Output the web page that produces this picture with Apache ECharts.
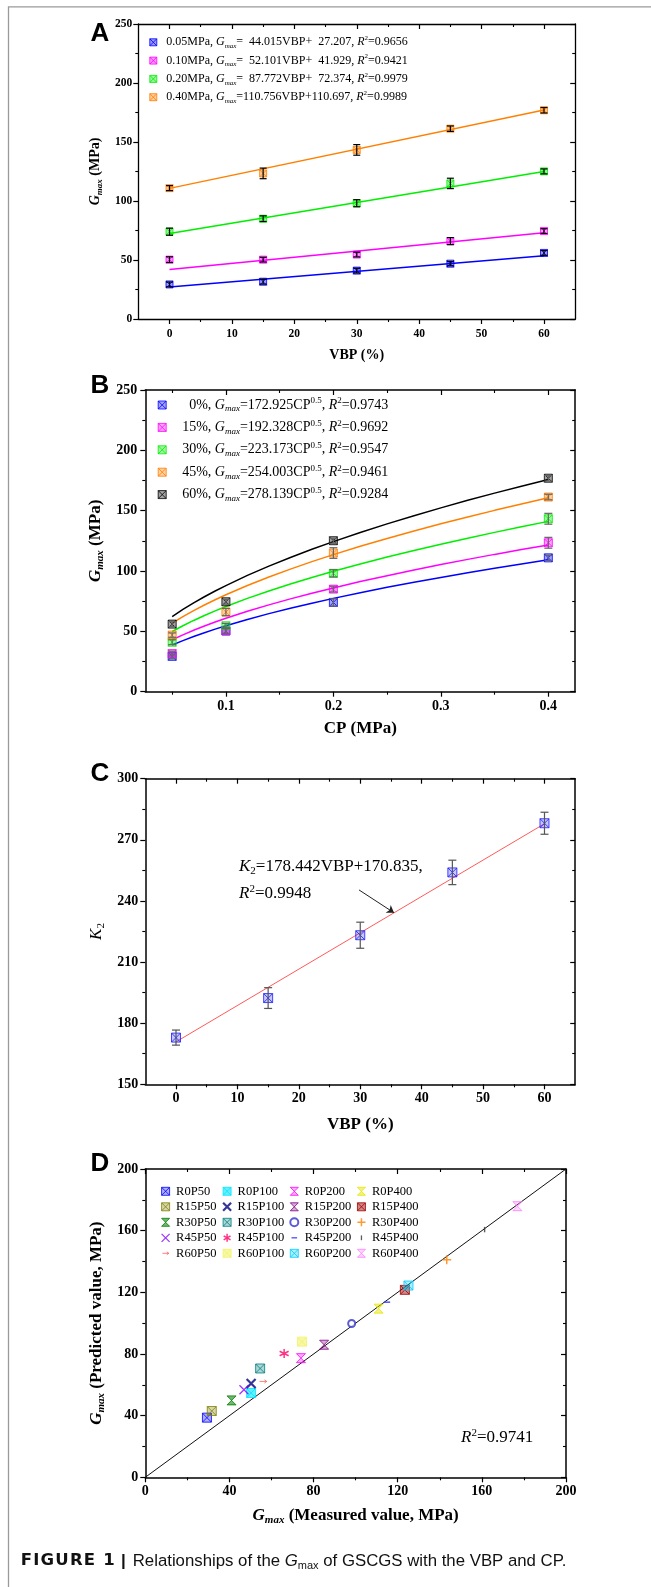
<!DOCTYPE html>
<html>
<head>
<meta charset="utf-8">
<script src="https://cdn.jsdelivr.net/npm/echarts@6/dist/echarts.min.js"></script>
<style>
  html, body { margin: 0; padding: 0; background: #fff; }
  #chart { width: 651px; height: 1587px; }
</style>
</head>
<body>
<div id="chart"></div>
<script>
const SERIF = '"Liberation Serif","Times New Roman",serif';
const SANS = '"Liberation Sans",Arial,sans-serif';
const FIG = '\u2007'; // figure space, one digit wide

// ---- Panel A: Gmax against VBP at four confining pressures ----
const vbpLevels = [0, 15, 30, 45, 60];
const cpNames = ['0.05MPa', '0.10MPa', '0.20MPa', '0.40MPa'];
const gmaxCp005 = [29.3, 31.6, 41.0, 46.9, 56.0];
const gmaxCp010 = [50.3, 50.3, 54.6, 66.0, 74.5];
const gmaxCp020 = [74.0, 85.0, 98.1, 114.9, 125.1];
const gmaxCp040 = [110.9, 123.4, 143.3, 161.3, 176.9];
const errCp005 = [2.0, 2.0, 2.0, 1.8, 2.0];
const errCp010 = [2.4, 2.0, 2.0, 3.0, 2.0];
const errCp020 = [3.0, 2.4, 3.0, 4.4, 2.1];
const errCp040 = [2.1, 4.5, 4.5, 2.3, 2.3];
const linSlope = [44.015, 52.101, 87.772, 110.756];
const linIntercept = [27.207, 41.929, 72.374, 110.697];
const linR2 = ['0.9656', '0.9421', '0.9979', '0.9989'];

// ---- Panel B: Gmax against CP at five VBP levels (same tests, regrouped) ----
const cpLevels = [0.05, 0.1, 0.2, 0.4];
const vbpNames = ['0%', '15%', '30%', '45%', '60%'];
const powK = [172.925, 192.328, 223.173, 254.003, 278.139];
const powR2 = ['0.9743', '0.9692', '0.9547', '0.9461', '0.9284'];
const curveCp = [0.05, 0.06, 0.07, 0.08, 0.09, 0.1, 0.12, 0.14, 0.16, 0.18, 0.2,
                 0.225, 0.25, 0.275, 0.3, 0.325, 0.35, 0.375, 0.4];

// ---- Panel C: K2 against VBP ----
const k2Values = [172.925, 192.328, 223.173, 254.003, 278.139];
const k2Err = [3.7, 5.1, 6.4, 6.0, 5.4];
const k2Slope = 178.442;
const k2Intercept = 170.835;
const k2R2 = '0.9948';
const k2Arrow = [[29.8, 245.4], [35.5, 234.2]];

// ---- Panel D: predicted against measured Gmax ----
const sampleNames = ['R0P50', 'R0P100', 'R0P200', 'R0P400',
                     'R15P50', 'R15P100', 'R15P200', 'R15P400',
                     'R30P50', 'R30P100', 'R30P200', 'R30P400',
                     'R45P50', 'R45P100', 'R45P200', 'R45P400',
                     'R60P50', 'R60P100', 'R60P200', 'R60P400'];
const measured = [29.3, 50.3, 74.0, 110.9, 31.6, 50.3, 85.0, 123.4,
                  41.0, 54.6, 98.1, 143.3, 46.9, 66.0, 114.9, 161.3,
                  56.0, 74.5, 125.1, 176.9];
const predicted = [38.7, 54.7, 77.3, 109.4, 43.0, 60.8, 86.0, 121.6,
                   49.9, 70.6, 99.8, 141.2, 56.8, 80.3, 113.6, 160.7,
                   62.2, 88.0, 124.4, 175.9];
const dR2 = '0.9741';

const gmaxByCp = [gmaxCp005, gmaxCp010, gmaxCp020, gmaxCp040];
const errByCp = [errCp005, errCp010, errCp020, errCp040];

// ---------- styling helpers ----------
const black = '#000';
const BOXX = 'path://M0,0H10V10H0ZM0,0L10,10M10,0L0,10';
const HOURGLASS = 'path://M0,0H10L0,10H10Z';
const XMARK = 'path://M0,0L10,10M10,0L0,10';
const PLUS = 'path://M5,0V10M0,5H10';
const ASTER = 'path://M5,0V10M0.7,2.5L9.3,7.5M9.3,2.5L0.7,7.5';
const DASH = 'path://M0,0M1.5,4.1H8.5V5.9H1.5ZM10,10';
const VBAR = 'path://M0,0M4.2,2H5.8V8H4.2ZM10,10';
const ARROW = 'path://M0,0M1,5H9M6.5,3.2L9,5L6.5,6.8M10,10';

function rgba(hex, a) {
  const n = parseInt(hex.slice(1), 16);
  return 'rgba(' + (n >> 16 & 255) + ',' + (n >> 8 & 255) + ',' + (n & 255) + ',' + a + ')';
}
function boxStyle(c, a) {
  return { color: rgba(c, a == null ? 0.4 : a), borderColor: c, borderWidth: 1 };
}

function richText(size, weight) {
  const sub = Math.round(size * 0.62);
  const w = weight || 'normal';
  return {
    i: { fontFamily: SERIF, fontStyle: 'italic', fontWeight: w, fontSize: size, lineHeight: size + 3 },
    sub: { fontFamily: SERIF, fontStyle: 'italic', fontWeight: w, fontSize: sub, lineHeight: sub - 2, verticalAlign: 'bottom' },
    subn: { fontFamily: SERIF, fontWeight: w, fontSize: sub, lineHeight: sub - 2, verticalAlign: 'bottom' },
    sup: { fontFamily: SERIF, fontWeight: w, fontSize: sub, lineHeight: sub - 2, verticalAlign: 'top' }
  };
}
function nameStyle(size, weight) {
  return { color: black, fontFamily: SERIF, fontWeight: weight || 'bold', fontSize: size,
           lineHeight: size + 3, rich: richText(size, weight || 'bold') };
}

// ---------- axes: labelled bottom/left, mirrored top/right ----------
const xAxis = [], yAxis = [];
function frameAxes(g, dim, s) {
  const list = dim === 'x' ? xAxis : yAxis;
  const sides = dim === 'x' ? ['bottom', 'top'] : ['left', 'right'];
  const mainIndex = list.length;
  sides.forEach((pos, k) => {
    const inside = k === 1;
    const ax = {
      type: 'value', gridIndex: g, min: s.min, max: s.max, position: pos,
      splitLine: { show: false },
      axisPointer: { show: false },
      axisLine: { show: true, onZero: false, lineStyle: { color: black, width: s.lw } },
      axisTick: { show: true, inside: inside, length: 5, lineStyle: { color: black, width: 1.2 } },
      axisLabel: { show: k === 0, color: black, fontFamily: SERIF, fontWeight: 'bold',
                   fontSize: s.fs, margin: s.margin }
    };
    if (s.majors) {
      ax.axisTick.customValues = s.majors;
      ax.axisLabel.customValues = s.majors;
    } else {
      ax.interval = s.interval;
      ax.minorTick = { show: true, splitNumber: 2, length: 3, lineStyle: { color: black, width: 1.1 } };
    }
    if (k === 0 && s.name) {
      Object.assign(ax, { name: s.name, nameLocation: 'middle', nameGap: s.nameGap, nameTextStyle: s.nameStyle });
    }
    list.push(ax);
    if (s.minors) {
      list.push({
        type: 'value', gridIndex: g, min: s.min, max: s.max, position: pos,
        splitLine: { show: false },
        axisPointer: { show: false },
        axisLine: { show: false, onZero: false },
        axisTick: { show: true, inside: inside, length: 3, customValues: s.minors,
                    lineStyle: { color: black, width: 1.1 } },
        axisLabel: { show: false, customValues: s.minors }
      });
    }
  });
  return mainIndex;
}

const grids = [
  { left: 138.3, top: 24, width: 436.9, height: 295 },
  { left: 145.3, top: 390, width: 429.9, height: 301.7 },
  { left: 145.3, top: 778.7, width: 429.9, height: 305.6 },
  { left: 145.3, top: 1169, width: 420.7, height: 308.3 }
];

const vbpMajors = [0, 10, 20, 30, 40, 50, 60];
const vbpMinors = [5, 15, 25, 35, 45, 55];

const axA = frameAxes(0, 'x', { min: -5, max: 65, majors: vbpMajors, minors: vbpMinors, lw: 1.3, fs: 11.5, margin: 9,
  name: 'VBP (%)', nameGap: 28, nameStyle: nameStyle(14) });
const ayA = frameAxes(0, 'y', { min: 0, max: 250, interval: 50, lw: 1.3, fs: 11.5, margin: 6,
  name: '{i|G}{sub|max} (MPa)', nameGap: 28, nameStyle: nameStyle(14) });

const axB = frameAxes(1, 'x', { min: 0.025, max: 0.425, majors: [0.1, 0.2, 0.3, 0.4],
  minors: [0.05, 0.15, 0.25, 0.35], lw: 1.5, fs: 14, margin: 8,
  name: 'CP (MPa)', nameGap: 27, nameStyle: nameStyle(17) });
const ayB = frameAxes(1, 'y', { min: 0, max: 250, interval: 50, lw: 1.5, fs: 14, margin: 8,
  name: '{i|G}{sub|max} (MPa)', nameGap: 34, nameStyle: nameStyle(17) });

const axC = frameAxes(2, 'x', { min: -5, max: 65, majors: vbpMajors, minors: vbpMinors, lw: 1.5, fs: 14, margin: 7,
  name: 'VBP (%)', nameGap: 30, nameStyle: nameStyle(17) });
const ayC = frameAxes(2, 'y', { min: 150, max: 300, interval: 30, lw: 1.5, fs: 14, margin: 7,
  name: '{i|K}{subn|2}', nameGap: 35, nameStyle: nameStyle(17, 'normal') });

const axD = frameAxes(3, 'x', { min: 0, max: 200, interval: 40, lw: 1.5, fs: 14, margin: 7,
  name: '{i|G}{sub|max} (Measured value, MPa)', nameGap: 28, nameStyle: nameStyle(17) });
const ayD = frameAxes(3, 'y', { min: 0, max: 200, interval: 40, lw: 1.5, fs: 14, margin: 7,
  name: '{i|G}{sub|max} (Predicted value, MPa)', nameGap: 34, nameStyle: nameStyle(17) });

// ---------- error bars ----------
function errorBars(xi, yi, pts, color, capHalf) {
  return {
    type: 'custom', xAxisIndex: xi, yAxisIndex: yi, z: 5, silent: true,
    data: pts,
    encode: { x: 0, y: 1 },
    renderItem(params, api) {
      const x = api.value(0), y = api.value(1), e = api.value(2);
      const top = api.coord([x, y + e]);
      const bot = api.coord([x, y - e]);
      const style = { stroke: color, lineWidth: 1.2, fill: null };
      return {
        type: 'group',
        children: [
          { type: 'line', shape: { x1: top[0], y1: top[1], x2: bot[0], y2: bot[1] }, style },
          { type: 'line', shape: { x1: top[0] - capHalf, y1: top[1], x2: top[0] + capHalf, y2: top[1] }, style },
          { type: 'line', shape: { x1: bot[0] - capHalf, y1: bot[1], x2: bot[0] + capHalf, y2: bot[1] }, style }
        ]
      };
    }
  };
}

const series = [];

// Panel A
const colorsA = ['#0000ff', '#ff00ff', '#00ee00', '#ff8000'];
cpNames.forEach((nm, i) => {
  series.push({
    type: 'line', xAxisIndex: axA, yAxisIndex: ayA, z: 2, silent: true,
    showSymbol: false, symbol: 'none',
    lineStyle: { color: colorsA[i], width: 1.5 },
    data: [[0, linIntercept[i]], [60, linIntercept[i] + linSlope[i] * 0.6]]
  });
  series.push({
    type: 'scatter', name: nm, xAxisIndex: axA, yAxisIndex: ayA, z: 3,
    symbol: BOXX, symbolSize: 7, itemStyle: boxStyle(colorsA[i], 0.5),
    data: vbpLevels.map((v, j) => [v, gmaxByCp[i][j]])
  });
  series.push(errorBars(axA, ayA, vbpLevels.map((v, j) => [v, gmaxByCp[i][j], errByCp[i][j]]), '#000', 3.5));
});

// Panel B
const colorsB = ['#0000ff', '#ff00ff', '#00ee00', '#ff8000', '#000000'];
vbpNames.forEach((nm, i) => {
  // fitted power-law curve Gmax = K * CP^0.5 with the coefficient listed in the legend
  series.push({
    type: 'line', xAxisIndex: axB, yAxisIndex: ayB, z: 2, silent: true,
    showSymbol: false, symbol: 'none', smooth: false,
    lineStyle: { color: colorsB[i], width: 1.5 },
    data: curveCp.map(cp => [cp, powK[i] * Math.sqrt(cp)])
  });
  series.push({
    type: 'scatter', name: nm, xAxisIndex: axB, yAxisIndex: ayB, z: 3,
    symbol: BOXX, symbolSize: 8, itemStyle: boxStyle(colorsB[i], 0.45),
    data: cpLevels.map((cp, j) => [cp, gmaxByCp[j][i]])
  });
  series.push(errorBars(axB, ayB, cpLevels.map((cp, j) => [cp, gmaxByCp[j][i], errByCp[j][i]]), '#666', 4));
});

// Panel C
series.push({
  type: 'line', xAxisIndex: axC, yAxisIndex: ayC, z: 2, silent: true,
  showSymbol: false, symbol: 'none',
  lineStyle: { color: '#ff5a5a', width: 1 },
  data: [[0, k2Intercept], [60, k2Intercept + k2Slope * 0.6]],
  markLine: {
    silent: true, symbol: ['none', 'arrow'], symbolSize: 7,
    lineStyle: { color: '#222', width: 1, type: 'solid' },
    label: { show: false },
    data: [[{ coord: k2Arrow[0] }, { coord: k2Arrow[1] }]]
  }
});
series.push({
  type: 'scatter', xAxisIndex: axC, yAxisIndex: ayC, z: 3,
  symbol: BOXX, symbolSize: 9, itemStyle: boxStyle('#1a1aff', 0.3),
  data: vbpLevels.map((v, j) => [v, k2Values[j]])
});
series.push(errorBars(axC, ayC, vbpLevels.map((v, j) => [v, k2Values[j], k2Err[j]]), '#555', 4));

// Panel D
const dMarks = [
  { s: BOXX, c: '#0000ff' }, { s: BOXX, c: '#00e5ff', a: 0.75 }, { s: HOURGLASS, c: '#ff00ff' }, { s: HOURGLASS, c: '#e6e600', a: 0.6 },
  { s: BOXX, c: '#808000' }, { s: XMARK, c: '#000080', w: 2.2 }, { s: HOURGLASS, c: '#800080' }, { s: BOXX, c: '#a00000', a: 0.6 },
  { s: HOURGLASS, c: '#008000', a: 0.7 }, { s: BOXX, c: '#008080' }, { s: 'emptyCircle', c: '#3333cc', ring: true }, { s: PLUS, c: '#ff8000', w: 1.5 },
  { s: XMARK, c: '#8000ff', w: 1.2 }, { s: ASTER, c: '#ff0066', w: 1.5 }, { s: DASH, c: '#3333ff', solid: true }, { s: VBAR, c: '#333333', solid: true },
  { s: ARROW, c: '#ff6060', w: 1 }, { s: BOXX, c: '#f2f266', a: 0.7 }, { s: BOXX, c: '#00ccff' }, { s: HOURGLASS, c: '#ff80ff' }
];
function dItemStyle(m) {
  if (m.solid) return { color: m.c, borderWidth: 0 };
  if (m.ring) return { color: m.c, borderWidth: 1.3 };
  if (m.w) return { color: 'rgba(0,0,0,0)', borderColor: m.c, borderWidth: m.w };
  return boxStyle(m.c, m.a);
}
series.push({
  type: 'line', xAxisIndex: axD, yAxisIndex: ayD, z: 2, silent: true,
  showSymbol: false, symbol: 'none',
  lineStyle: { color: '#111', width: 1 },
  data: [[0, 0], [200, 200]]
});
sampleNames.forEach((nm, i) => {
  series.push({
    type: 'scatter', name: nm, xAxisIndex: axD, yAxisIndex: ayD, z: 3,
    symbol: dMarks[i].s, symbolSize: dMarks[i].ring ? 7 : 9, itemStyle: dItemStyle(dMarks[i]),
    data: [[measured[i], predicted[i]]]
  });
});

// ---------- legends (icon's left edge sits at `left`) ----------
function padNum(v) { return (v < 100 ? FIG : '') + v.toFixed(3); }
const legendA = {
  orient: 'vertical', left: 149.3, top: 34.8, padding: 0, itemGap: 3.3,
  itemWidth: 16, itemHeight: 7, selectedMode: false,
  itemStyle: { borderWidth: 1 },
  data: cpNames,
  formatter(name) {
    const i = cpNames.indexOf(name);
    return name + ', {i|G}{sub|max}=' + padNum(linSlope[i]) + 'VBP+' + padNum(linIntercept[i]) +
           ', {i|R}{sup|2}=' + linR2[i];
  },
  textStyle: { color: black, fontFamily: SERIF, fontSize: 12, lineHeight: 15, rich: richText(12) }
};
const legendB = {
  orient: 'vertical', left: 157.7, top: 396.5, padding: 0, itemGap: 5.4,
  itemWidth: 30, itemHeight: 8, selectedMode: false,
  itemStyle: { borderWidth: 1 },
  data: vbpNames,
  formatter(name) {
    const i = vbpNames.indexOf(name);
    return (name.length < 3 ? FIG : '') + name + ', {i|G}{sub|max}=' + powK[i].toFixed(3) +
           'CP{sup|0.5}, {i|R}{sup|2}=' + powR2[i];
  },
  textStyle: { color: black, fontFamily: SERIF, fontSize: 14, lineHeight: 17, rich: richText(14) }
};
const legendColLeft = [161, 222, 289.3, 356.7];
const legendsD = legendColLeft.map((left, c) => ({
  orient: 'vertical', left: left, top: 1184.3, padding: 0, itemGap: 1.5,
  itemWidth: 11, itemHeight: 8, selectedMode: false,
  itemStyle: { borderWidth: 'inherit' },
  data: [0, 1, 2, 3, 4].map(r => sampleNames[r * 4 + c]),
  textStyle: { color: black, fontFamily: SERIF, fontSize: 12.5, lineHeight: 14 }
}));

// ---------- panel letters, annotations, caption, frame ----------
function panelLetter(t, x, y) {
  return { type: 'text', x: x, y: y, z: 10,
           style: { text: t, fill: black, font: 'bold 26px ' + SANS, textAlign: 'center', textVerticalAlign: 'middle' } };
}
const captionBold = 'FIGURE 1'.split('').map(ch => '{b|' + ch + '}').join('');
const graphic = [
  { type: 'polyline', z: 10, silent: true,
    shape: { points: [[8.5, 1587], [8.5, 6.8], [651, 6.8]] },
    style: { stroke: '#9a9a9a', lineWidth: 1.3, fill: null } },
  panelLetter('A', 100, 34),
  panelLetter('B', 100, 386),
  panelLetter('C', 100, 774),
  panelLetter('D', 100, 1164),
  { type: 'text', x: 239, y: 866.7, z: 10,
    style: { text: '{i|K}{subn|2}=' + k2Slope.toFixed(3) + 'VBP+' + k2Intercept.toFixed(3) + ',',
             fill: black, fontFamily: SERIF, fontSize: 17, lineHeight: 20, rich: richText(17),
             textAlign: 'left', textVerticalAlign: 'middle' } },
  { type: 'text', x: 239, y: 893.3, z: 10,
    style: { text: '{i|R}{sup|2}=' + k2R2, fill: black, fontFamily: SERIF, fontSize: 17, lineHeight: 20,
             rich: richText(17), textAlign: 'left', textVerticalAlign: 'middle' } },
  { type: 'text', x: 461, y: 1438, z: 10,
    style: { text: '{i|R}{sup|2}=' + dR2, fill: black, fontFamily: SERIF, fontSize: 17, lineHeight: 20,
             rich: richText(17), textAlign: 'left', textVerticalAlign: 'middle' } },
  { type: 'text', x: 20.8, y: 1561, z: 10,
    style: {
      text: captionBold + '{bar||}Relationships of the {i|G}{s|max} of GSCGS with the VBP and CP.',
      fill: '#111', fontFamily: SANS, fontSize: 16.8, lineHeight: 20,
      textAlign: 'left', textVerticalAlign: 'middle',
      rich: {
        b: { fontFamily: '"DejaVu Sans",' + SANS, fontWeight: 'bold', fontSize: 16.5, lineHeight: 20, padding: [0, 1.2, 0, 0] },
        bar: { fontFamily: SANS, fontWeight: 'bold', fontSize: 17, lineHeight: 20, padding: [0, 7, 0, 5] },
        i: { fontFamily: SANS, fontStyle: 'italic', fontSize: 16.8, lineHeight: 20 },
        s: { fontFamily: SANS, fontSize: 11, lineHeight: 8, verticalAlign: 'bottom' }
      }
    } }
];

const chart = echarts.init(document.getElementById('chart'), null, { renderer: 'canvas' });
chart.setOption({
  animation: false,
  backgroundColor: '#fff',
  grid: grids,
  xAxis: xAxis,
  yAxis: yAxis,
  legend: [legendA, legendB].concat(legendsD),
  series: series,
  graphic: graphic
});
</script>
</body>
</html>
